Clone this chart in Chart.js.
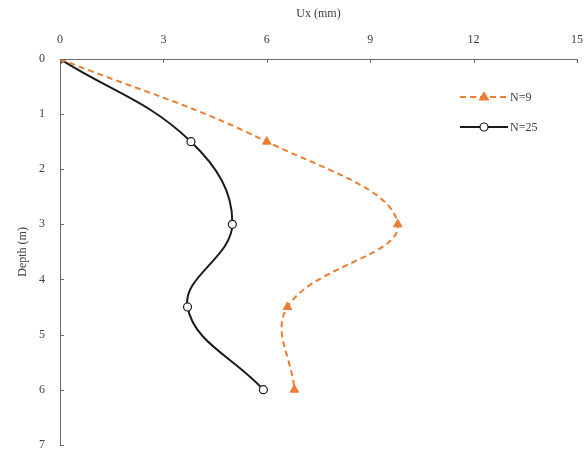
<!DOCTYPE html>
<html>
<head>
<meta charset="utf-8">
<script src="https://cdn.jsdelivr.net/npm/chart.js@4"></script>
<style>
  html, body { margin: 0; padding: 0; background: #ffffff; overflow: hidden; }
  /* the original picture is cropped on the right/bottom, so the canvas runs past the window */
  #wrap { width: 595px; height: 467px; }
</style>
</head>
<body>
<div id="wrap"><canvas id="chart"></canvas></div>
<script>
// depth values (m) shared by both series
const depths = [0, 1.5, 3, 4.5, 6];
// horizontal displacement Ux (mm)
const uxN9 = [0, 6.0, 9.8, 6.6, 6.8];
const uxN25 = [0, 3.8, 5.0, 3.7, 5.9];
const seriesLabels = ['N=9', 'N=25'];
const xTicks = [0, 3, 6, 9, 12, 15];
const yTicks = [0, 1, 2, 3, 4, 5, 6, 7];

const ORANGE = '#ED7D31';
const TEXT = '#404040';
const AXIS = '#6b6b6b';
const FONT = "'Liberation Serif', 'DejaVu Serif', serif";

function toPoints(xs) {
  return xs.map((x, i) => ({ x: x, y: depths[i] }));
}

// small inward tick marks, like the original
const innerTicks = {
  id: 'innerTicks',
  afterDraw(chart) {
    const { ctx, chartArea, scales } = chart;
    ctx.save();
    ctx.strokeStyle = AXIS;
    ctx.lineWidth = 1;
    xTicks.forEach(v => {
      const px = Math.round(scales.x.getPixelForValue(v)) + 0.5;
      ctx.beginPath();
      ctx.moveTo(px, chartArea.top);
      ctx.lineTo(px, chartArea.top + 4);
      ctx.stroke();
    });
    yTicks.forEach(v => {
      const py = Math.round(scales.y.getPixelForValue(v)) + 0.5;
      ctx.beginPath();
      ctx.moveTo(chartArea.left, py);
      ctx.lineTo(chartArea.left + 4, py);
      ctx.stroke();
    });
    ctx.restore();
  }
};

// legend inside the plot: line + marker + label
const insideLegend = {
  id: 'insideLegend',
  afterDraw(chart) {
    const { ctx } = chart;
    const x0 = 460, x1 = 508, rowY = [97, 127];
    ctx.save();
    chart.data.datasets.forEach((ds, i) => {
      const y = rowY[i];
      const cx = (x0 + x1) / 2;
      ctx.strokeStyle = ds.borderColor;
      ctx.lineWidth = ds.borderWidth;
      ctx.setLineDash(ds.borderDash || []);
      ctx.beginPath();
      ctx.moveTo(x0, y);
      ctx.lineTo(x1, y);
      ctx.stroke();
      ctx.setLineDash([]);
      ctx.fillStyle = ds.pointBackgroundColor;
      ctx.strokeStyle = ds.pointBorderColor;
      ctx.lineWidth = ds.pointBorderWidth;
      ctx.beginPath();
      if (ds.pointStyle === 'triangle') {
        const r = ds.pointRadius;
        ctx.moveTo(cx, y - r);
        ctx.lineTo(cx + r * 0.95, y + r * 0.6);
        ctx.lineTo(cx - r * 0.95, y + r * 0.6);
        ctx.closePath();
      } else {
        ctx.arc(cx, y, ds.pointRadius, 0, Math.PI * 2);
      }
      ctx.fill();
      ctx.stroke();
      ctx.fillStyle = TEXT;
      ctx.font = '12px ' + FONT;
      ctx.textBaseline = 'middle';
      ctx.textAlign = 'left';
      ctx.fillText(ds.label, x1 + 2, y + 1);
    });
    ctx.restore();
  }
};

const ctx = document.getElementById('chart').getContext('2d');
new Chart(ctx, {
  type: 'scatter',
  data: {
    datasets: [
      {
        label: seriesLabels[0],
        data: toPoints(uxN9),
        showLine: true,
        borderColor: ORANGE,
        borderWidth: 2,
        borderDash: [6, 4],
        tension: 0.4,
        pointStyle: 'triangle',
        pointRadius: 5,
        pointBackgroundColor: ORANGE,
        pointBorderColor: ORANGE,
        pointBorderWidth: 1
      },
      {
        label: seriesLabels[1],
        data: toPoints(uxN25),
        showLine: true,
        borderColor: '#1a1a1a',
        borderWidth: 2,
        tension: 0.4,
        pointStyle: 'circle',
        pointRadius: 4,
        pointBackgroundColor: '#ffffff',
        pointBorderColor: '#1a1a1a',
        pointBorderWidth: 1.2
      }
    ]
  },
  options: {
    responsive: true,
    maintainAspectRatio: false,
    animation: false,
    layout: { padding: { left: 0, top: 0, right: 8, bottom: 8 } },
    plugins: {
      legend: { display: false },
      tooltip: { enabled: false }
    },
    scales: {
      x: {
        type: 'linear',
        position: 'top',
        min: 0,
        max: 15,
        afterBuildTicks: scale => { scale.ticks = xTicks.map(v => ({ value: v })); },
        afterFit: scale => { scale.height = 59; },
        ticks: {
          color: TEXT,
          padding: 12,
          font: { family: FONT, size: 12 }
        },
        grid: { display: false, drawTicks: false },
        border: { display: true, color: AXIS, width: 1 },
        title: {
          display: true,
          text: 'Ux (mm)',
          color: TEXT,
          padding: { top: 7, bottom: 0 },
          font: { family: FONT, size: 12 }
        }
      },
      y: {
        type: 'linear',
        reverse: true,
        min: 0,
        max: 7,
        afterBuildTicks: scale => { scale.ticks = yTicks.map(v => ({ value: v })); },
        afterFit: scale => { scale.width = 60; },
        ticks: {
          color: TEXT,
          padding: 15,
          font: { family: FONT, size: 12 }
        },
        grid: { display: false, drawTicks: false },
        border: { display: true, color: AXIS, width: 1 },
        title: {
          display: true,
          text: 'Depth (m)',
          color: TEXT,
          padding: { top: 16, bottom: 0 },
          font: { family: FONT, size: 12 }
        }
      }
    }
  },
  plugins: [innerTicks, insideLegend]
});
</script>
</body>
</html>
